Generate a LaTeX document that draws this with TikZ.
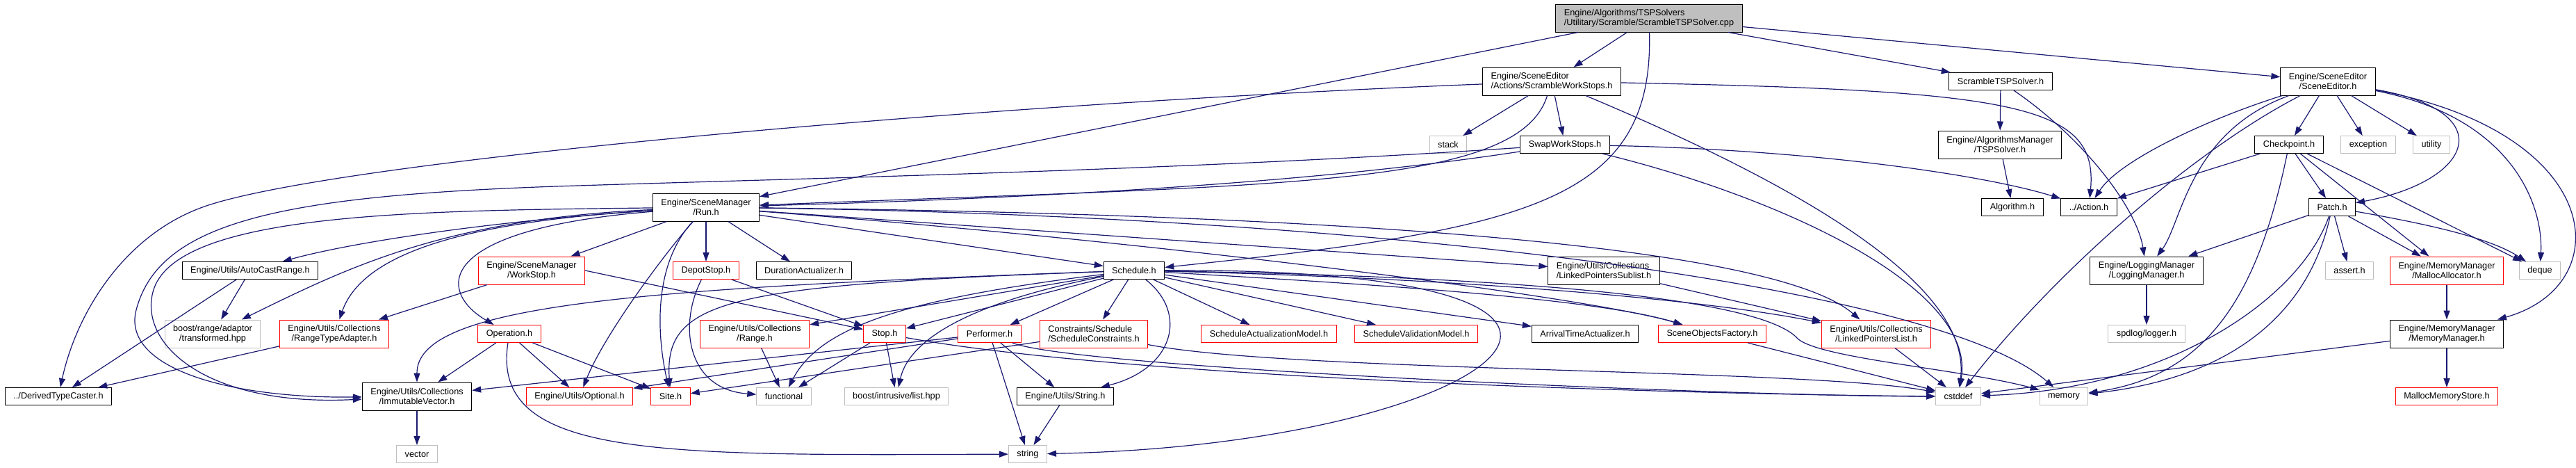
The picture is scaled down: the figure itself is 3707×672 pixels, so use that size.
\documentclass[tikz,border=0pt]{standalone}
\usepackage{fontspec}
\setmainfont{Liberation Sans}
\usetikzlibrary{arrows.meta}
\definecolor{edgeblue}{HTML}{191970}
\definecolor{sysgray}{HTML}{BFBFBF}

\begin{document}
\begin{tikzpicture}[x=1pt, y=-1pt, every node/.style={font=\fontsize{12.7}{14.5}\selectfont}]
\tikzset{hdr/.style={rectangle, draw=black, fill=white, line width=1pt, inner sep=0pt, inner xsep=12pt, minimum height=25pt},
  hdrred/.style={hdr, draw=red},
  sys/.style={hdr, draw=sysgray},
  two/.style={minimum height=40pt, align=center},
  twol/.style={minimum height=40pt, align=left},
  dep/.style={draw=edgeblue, line width=1.2pt, -{Triangle[length=13pt, width=9pt]}}}
\fill[white] (0,0) rectangle (3707,672);
\useasboundingbox (0,0) rectangle (3707,672);
% the file itself and what it includes directly
\node[hdr, twol, fill=sysgray] (root) at (2373,26) {Engine/Algorithms/TSPSolvers\\/Utilitary/Scramble/ScrambleTSPSolver.cpp};
\node[hdr, twol] (sws) at (2233,117) {Engine/SceneEditor\\/Actions/ScrambleWorkStops.h};
\node[hdr] (stsh) at (2879,117) {ScrambleTSPSolver.h};
\node[hdr, two] (sceneed) at (3350,117) {Engine/SceneEditor\\/SceneEditor.h};
\node[sys] (stack) at (2084,208) {stack};
\node[hdr] (swap) at (2252,208) {SwapWorkStops.h};
\node[hdr, two] (tsps) at (2878,208) {Engine/AlgorithmsManager\\/TSPSolver.h};
\node[hdr] (checkp) at (3294,208) {Checkpoint.h};
\node[sys] (except) at (3408,208) {exception};
\node[sys] (utility) at (3499,208) {utility};
\node[hdr, two] (run) at (1016,298) {Engine/SceneManager\\/Run.h};
\node[hdr] (algo) at (2896,298) {Algorithm.h};
\node[hdr] (action) at (3006,298) {../Action.h};
\node[hdr] (patch) at (3356,298) {Patch.h};
% middle ranks
\node[hdr] (autocast) at (360,389) {Engine/Utils/AutoCastRange.h};
\node[hdrred, two] (workstop) at (765,389) {Engine/SceneManager\\/WorkStop.h};
\node[hdrred] (depot) at (1016,389) {DepotStop.h};
\node[hdr] (duration) at (1157,389) {DurationActualizer.h};
\node[hdr] (sched) at (1632,389) {Schedule.h};
\node[hdr, twol] (sublist) at (2308,389) {Engine/Utils/Collections\\/LinkedPointersSublist.h};
\node[hdr, two] (logging) at (3089,389) {Engine/LoggingManager\\/LoggingManager.h};
\node[sys] (assert) at (3381,389) {assert.h};
\node[hdrred, two] (malloc) at (3521,389) {Engine/MemoryManager\\/MallocAllocator.h};
\node[sys] (deque) at (3655,389) {deque};
\node[sys, two] (transf) at (306,480) {boost/range/adaptor\\/transformed.hpp};
\node[hdrred, two] (rta) at (481,480) {Engine/Utils/Collections\\/RangeTypeAdapter.h};
\node[hdrred] (operation) at (733,480) {Operation.h};
\node[hdrred, two] (range) at (1086,480) {Engine/Utils/Collections\\/Range.h};
\node[hdrred] (stop) at (1273,480) {Stop.h};
\node[hdrred] (performer) at (1424,480) {Performer.h};
\node[hdrred, twol] (constr) at (1574,480) {Constraints/Schedule\\/ScheduleConstraints.h};
\node[hdrred] (actmodel) at (1826,480) {ScheduleActualizationModel.h};
\node[hdrred] (valmodel) at (2038,480) {ScheduleValidationModel.h};
\node[hdr] (arrival) at (2281,480) {ArrivalTimeActualizer.h};
\node[hdrred] (factory) at (2464,480) {SceneObjectsFactory.h};
\node[hdrred, two] (lplist) at (2700,480) {Engine/Utils/Collections\\/LinkedPointersList.h};
\node[sys] (spdlog) at (3089,480) {spdlog/logger.h};
\node[hdr, two] (memmgr) at (3521,480) {Engine/MemoryManager\\/MemoryManager.h};
% bottom ranks
\node[hdr] (dtc) at (84,570) {../DerivedTypeCaster.h};
\node[hdr, two] (immvec) at (600,570) {Engine/Utils/Collections\\/ImmutableVector.h};
\node[hdrred] (optional) at (834,570) {Engine/Utils/Optional.h};
\node[hdrred] (site) at (965,570) {Site.h};
\node[sys] (functional) at (1128,570) {functional};
\node[sys] (ilist) at (1290,570) {boost/intrusive/list.hpp};
\node[hdr] (strh) at (1533,570) {Engine/Utils/String.h};
\node[sys] (cstddef) at (2818,570) {cstddef};
\node[sys] (memory) at (2970,570) {memory};
\node[hdrred] (mstore) at (3521,570) {MallocMemoryStore.h};
\node[sys] (vector) at (600,653) {vector};
\node[sys] (string) at (1479,653) {string};

% edges of the .cpp file
\foreach \dst in {sws,stsh,sceneed,run} \draw[dep] (root) -- (\dst);
\draw[dep] (root) .. controls (2380,290) and (2200,330) .. (sched);
% ScrambleWorkStops.h and SwapWorkStops.h
\foreach \dst in {stack,swap} \draw[dep] (sws) -- (\dst);
\draw[dep] (sws) .. controls (1400,150) and (500,230) .. (300,295) .. controls (180,334) and (110,450) .. (dtc);
\draw[dep] (sws) .. controls (2185,270) and (1850,265) .. (run);
\draw[dep] (sws) .. controls (2900,130) and (3020,150) .. (action);
\draw[dep] (sws) .. controls (2550,250) and (2840,400) .. (cstddef);
\draw[dep] (swap) .. controls (1700,245) and (1200,255) .. (800,268) .. controls (400,282) and (225,320) .. (195,450) .. controls (180,530) and (330,573) .. (immvec);
\draw[dep] (swap) .. controls (1900,262) and (1500,285) .. (run);
\draw[dep] (swap) .. controls (2600,215) and (2850,250) .. (action);
\draw[dep] (swap) .. controls (2550,280) and (2845,410) .. (cstddef);
% Run.h
\foreach \dst in {workstop,depot,duration,sched,sublist} \draw[dep] (run) -- (\dst);
\draw[dep] (run) .. controls (600,303) and (250,305) .. (220,420) .. controls (200,497) and (300,585) .. (immvec);
\draw[dep] (run) .. controls (700,318) and (500,350) .. (autocast);
\draw[dep] (run) .. controls (640,315) and (500,385) .. (transf);
\draw[dep] (run) .. controls (650,320) and (520,370) .. (rta);
\draw[dep] (run) .. controls (620,330) and (630,420) .. (operation);
\draw[dep] (run) .. controls (960,360) and (870,480) .. (optional);
\draw[dep] (run) .. controls (940,380) and (945,480) .. (site);
\draw[dep] (run) .. controls (1700,350) and (2300,430) .. (factory);
\draw[dep] (run) .. controls (1900,308) and (2550,350) .. (lplist);
\draw[dep] (run) .. controls (2050,312) and (2800,420) .. (memory);
% Schedule.h
\foreach \dst in {range,stop,performer,constr,actmodel,valmodel,arrival} \draw[dep] (sched) -- (\dst);
\draw[dep] (sched) .. controls (900,415) and (600,440) .. (immvec);
\draw[dep] (sched) .. controls (1050,410) and (955,430) .. (site);
\draw[dep] (sched) .. controls (1300,430) and (1180,470) .. (functional);
\draw[dep] (sched) .. controls (1420,430) and (1310,480) .. (ilist);
\draw[dep] (sched) .. controls (1710,450) and (1690,530) .. (strh);
\draw[dep] (sched) .. controls (2000,410) and (2300,430) .. (factory);
\draw[dep] (sched) .. controls (2100,400) and (2450,430) .. (lplist);
\draw[dep] (sched) .. controls (2500,385) and (2150,640) .. (string);
\draw[dep] (sched) .. controls (2300,400) and (2540,440) .. (2585,485) .. controls (2610,515) and (2820,530) .. (memory);
% the middle headers
\foreach \dst in {rta} \draw[dep] (workstop) -- (\dst);
\draw[dep] (workstop.east) -- (stop);
\foreach \dst in {dtc,transf} \draw[dep] (autocast) -- (\dst);
\draw[dep] (rta) -- (dtc);
\draw[dep] (depot) -- (stop);
\draw[dep] (depot) .. controls (975,470) and (990,560) .. (functional);
\foreach \dst in {immvec,optional,site} \draw[dep] (operation) -- (\dst);
\draw[dep] (operation) .. controls (705,660) and (950,655) .. (string);
\draw[dep] (range) -- (functional);
\foreach \dst in {functional,ilist} \draw[dep] (stop) -- (\dst);
\draw[dep] (stop) .. controls (1650,548) and (2500,568) .. (cstddef);
\foreach \dst in {immvec,optional,string,strh} \draw[dep] (performer) -- (\dst);
\draw[dep] (performer) .. controls (1550,530) and (2500,570) .. (cstddef);
\draw[dep] (constr) -- (site);
\draw[dep] (constr) .. controls (1850,535) and (2600,530) .. (cstddef);
\draw[dep] (strh) -- (string);
\draw[dep] (immvec) -- (vector);
\draw[dep] (sublist) -- (lplist);
\foreach \dst in {lplist,factory} \draw[dep] (\dst) -- (cstddef);
% right part: solver, editor, memory
\draw[dep] (stsh) -- (tsps);
\draw[dep] (stsh) .. controls (3000,200) and (3075,300) .. (logging);
\draw[dep] (tsps) -- (algo);
\foreach \dst in {checkp,except,utility} \draw[dep] (sceneed) -- (\dst);
\draw[dep] (sceneed) .. controls (3180,170) and (3050,230) .. (action);
\draw[dep] (sceneed) .. controls (3150,220) and (2950,400) .. (cstddef);
\draw[dep] (sceneed) .. controls (3150,190) and (3140,320) .. (logging);
\draw[dep] (sceneed) .. controls (3600,160) and (3560,260) .. (patch);
\draw[dep] (sceneed) .. controls (3620,170) and (3660,300) .. (deque);
\draw[dep] (sceneed) .. controls (3750,190) and (3770,410) .. (memmgr);
\foreach \dst in {action,patch,malloc,deque} \draw[dep] (checkp) -- (\dst);
\draw[dep] (checkp) .. controls (3250,420) and (3180,540) .. (memory);
\foreach \dst in {logging,assert,malloc} \draw[dep] (patch) -- (\dst);
\draw[dep] (patch) .. controls (3480,320) and (3580,340) .. (deque);
\draw[dep] (patch) .. controls (3310,430) and (3120,560) .. (cstddef);
\draw[dep] (patch) .. controls (3320,460) and (3200,545) .. (memory);
\draw[dep] (logging) -- (spdlog);
\draw[dep] (malloc) -- (memmgr);
\foreach \dst in {mstore,cstddef} \draw[dep] (memmgr) -- (\dst);
\end{tikzpicture}
\end{document}
